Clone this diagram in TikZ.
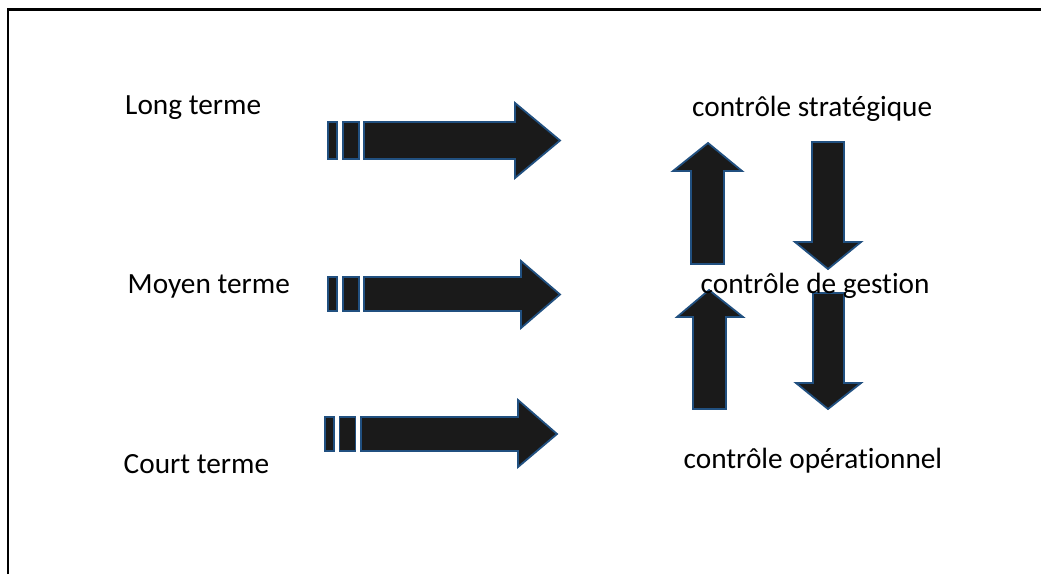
\documentclass[tikz,border=0pt]{standalone}
\usepackage{fontspec}
\setmainfont[Ligatures=NoCommon]{Carlito}
\begin{document}
\begin{tikzpicture}[x=1pt,y=-1pt,
  blockarrow/.style={fill={rgb,255:red,26;green,26;blue,26}, draw={rgb,255:red,33;green,80;blue,128}, line width=1.8pt, line join=miter},
  label/.style={anchor=base west, inner sep=0pt, font=\fontsize{29.3}{35}\selectfont, text=black},
  frame/.style={line width=2.6pt, black}]
\useasboundingbox (0,0) rectangle (1041,574);
% frame along top and left edges
\draw[frame] (8,574) -- (8,9.5) -- (1041,9.5);

% horizontal striped block arrows: two bars, then the shaft with its head
% long term
\draw[blockarrow] (328,122) rectangle (337,159);
\draw[blockarrow] (343,122) rectangle (359,159);
\draw[blockarrow] (364,122) -- (515,122) -- (515,103) -- (560,140.5) -- (515,178) -- (515,159) -- (364,159) -- cycle;
% medium term
\draw[blockarrow] (328,277) rectangle (337,311);
\draw[blockarrow] (343,277) rectangle (359,311);
\draw[blockarrow] (364,277) -- (521,277) -- (521,261) -- (560,294.5) -- (521,328) -- (521,311) -- (364,311) -- cycle;
% short term
\draw[blockarrow] (325,417) rectangle (334,451);
\draw[blockarrow] (339.5,417) rectangle (355.5,451);
\draw[blockarrow] (361,417) -- (518,417) -- (518,400) -- (557,434) -- (518,467) -- (518,451) -- (361,451) -- cycle;

% vertical block arrows between the control levels
\draw[blockarrow] (691,264) -- (691,171) -- (673,171) -- (708,143) -- (742,171) -- (724,171) -- (724,264) -- cycle;
\draw[blockarrow] (812,142) -- (844,142) -- (844,242) -- (861,242) -- (828,269) -- (795,242) -- (812,242) -- cycle;
\draw[blockarrow] (693,409) -- (693,317) -- (677,317) -- (709,290) -- (743,317) -- (726,317) -- (726,409) -- cycle;
\draw[blockarrow] (813,293) -- (844,293) -- (844,383) -- (861,383) -- (828,409) -- (796,383) -- (813,383) -- cycle;

% horizon labels
\node[label] (lt) at (125,114.5) {Long terme};
\node[label] (mt) at (127.5,293) {Moyen terme};
\node[label] (ct) at (123.5,473) {Court terme};
% control level labels
\node[label] (cs) at (692,116) {contrôle stratégique};
\node[label] (cg) at (700.5,293.5) {contrôle de gestion};
\node[label] (co) at (683.5,468) {contrôle opérationnel};
\end{tikzpicture}
\end{document}
